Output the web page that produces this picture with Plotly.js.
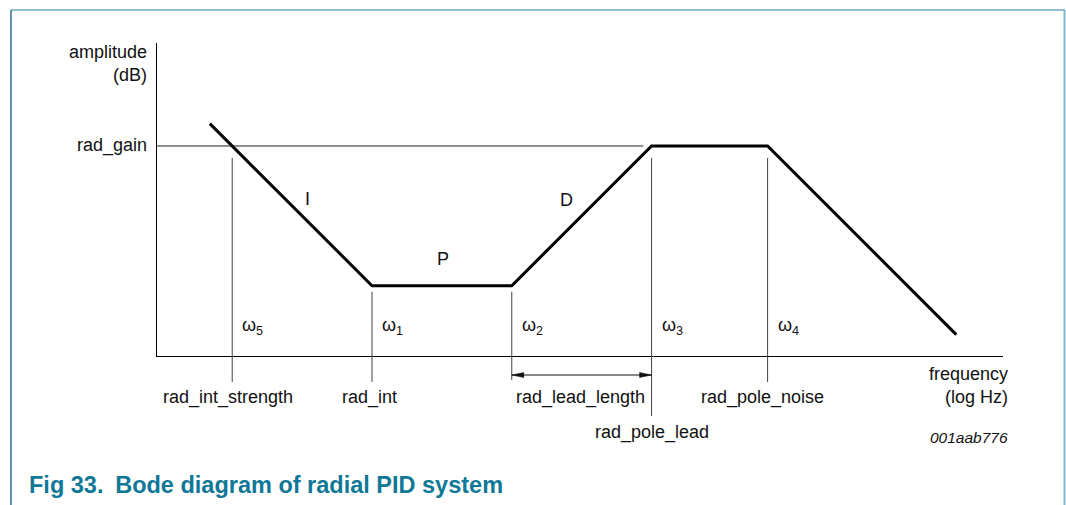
<!DOCTYPE html>
<html>
<head>
<meta charset="utf-8">
<script src="https://cdn.plot.ly/plotly-3.0.1.min.js"></script>
<style>html,body{margin:0;padding:0;background:#fff;}#chart{width:1066px;height:505px;}</style>
</head>
<body>
<div id="chart"></div>
<script>
// ---- data (schematic Bode magnitude, x = log10 frequency, y = dB) ----
const bodeLogFreq = [0.84, 2.0, 3.0, 4.0, 4.83, 6.18];
const bodeAmpDb   = [43.2, 20, 20, 40, 40, 13.0];
const gainDb = 40;
const gainLineEnd = 3.94;
const cornerSub     = ['5', '1', '2', '3', '4'];
const cornerLogFreq = [1.0, 2.0, 3.0, 4.0, 4.83];
const paramLabels   = ['rad_int_strength', 'rad_int', 'rad_lead_length', 'rad_pole_lead', 'rad_pole_noise'];
const regionLabels  = ['I', 'P', 'D'];
const regionLogFreq = [1.54, 2.51, 3.39];
const regionAmpDb   = [32.4, 23.8, 32.3];
const xTitle = 'frequency<br>(log Hz)';
const yTitle = 'amplitude<br>(dB)';
const figId = '001aab776';
const caption = 'Fig 33.\u2002Bode diagram of radial PID system';

// ---- layout geometry ----
const W = 1066, Hgt = 505;
const mL = 157, mR = 63, mT = 43, mB = 149;
const PW = W - mL - mR, PH = Hgt - mT - mB;
const xRange = [0.462, 6.514];
const yRange = [9.94, 54.74];
const FONT = 'Liberation Sans, Arial, Helvetica, sans-serif';
const TXT = '#111';

const px2pX = px => (px - mL) / PW;           // page px -> paper x
const py2pY = py => (Hgt - mB - py) / PH;     // page px -> paper y
const db2pY = db => (db - yRange[0]) / (yRange[1] - yRange[0]);
const pxToX = d => d * (xRange[1] - xRange[0]) / PW; // px length -> x units

const shapes = [];
const annotations = [];

// frame
shapes.push({type:'line', xref:'paper', yref:'paper', x0:px2pX(11), x1:px2pX(1065), y0:py2pY(10), y1:py2pY(10), line:{color:'#6ea8bc', width:1.5}});
shapes.push({type:'line', xref:'paper', yref:'paper', x0:px2pX(11), x1:px2pX(11), y0:py2pY(10), y1:py2pY(506), line:{color:'#2a7191', width:1.5}});
shapes.push({type:'line', xref:'paper', yref:'paper', x0:px2pX(1064.5), x1:px2pX(1064.5), y0:py2pY(10), y1:py2pY(506), line:{color:'#7cb9c8', width:2}});

// rad_gain reference line
shapes.push({type:'line', xref:'x', yref:'y', x0:xRange[0], x1:gainLineEnd, y0:gainDb, y1:gainDb, line:{color:'#222', width:1}});

// corner-frequency guide lines
const topOff = [12, 6, 6, 12, 12];      // px below the curve level
const topLevel = [gainDb, 20, 20, gainDb, gainDb];
const botPx = [26, 26, 24, 60, 26];     // px below x axis
cornerLogFreq.forEach((f, i) => {
  shapes.push({type:'line', xref:'x', yref:'paper', x0:f, x1:f,
    y0: db2pY(topLevel[i]) - topOff[i] / PH, y1: -botPx[i] / PH,
    line:{color:'#444', width:1}});
  annotations.push({xref:'x', yref:'paper', x:f, y:py2pY(326), xanchor:'left', yanchor:'middle',
    xshift:8, showarrow:false, text:'ω<sub>' + cornerSub[i] + '</sub>', font:{family:FONT, size:18, color:TXT}});
});

// double arrow rad_lead_length
(function(){
  const a = cornerLogFreq[2], b = cornerLogFreq[3];
  const y = -19 / PH, dx = pxToX(12), dy = 2.5 / PH;
  shapes.push({type:'path', xref:'x', yref:'paper', line:{color:'#111', width:1},
    path:`M${a},${y}L${b},${y}`});
  shapes.push({type:'path', xref:'x', yref:'paper', line:{color:'#111', width:0.5}, fillcolor:'#111',
    path:`M${a},${y}L${a+dx},${y+dy}L${a+dx},${y-dy}Z`});
  shapes.push({type:'path', xref:'x', yref:'paper', line:{color:'#111', width:0.5}, fillcolor:'#111',
    path:`M${b},${y}L${b-dx},${y+dy}L${b-dx},${y-dy}Z`});
})();

// parameter labels under the axis
const paramX = [cornerLogFreq[0], cornerLogFreq[1], (cornerLogFreq[2] + cornerLogFreq[3]) / 2, cornerLogFreq[3], cornerLogFreq[4]];
const paramYpx = [397, 397, 397, 432, 397];
const paramShift = [-4, -2, -1, 0, -5];
paramLabels.forEach((t, i) => {
  annotations.push({xref:'x', yref:'paper', x:paramX[i], y:py2pY(paramYpx[i]), xanchor:'center', yanchor:'middle',
    xshift:paramShift[i], showarrow:false, text:t, font:{family:FONT, size:18, color:TXT}});
});

// region labels
regionLabels.forEach((t, i) => {
  annotations.push({xref:'x', yref:'y', x:regionLogFreq[i], y:regionAmpDb[i], xanchor:'center', yanchor:'middle',
    showarrow:false, text:t, font:{family:FONT, size:18, color:TXT}});
});

// axis titles, gain tick label, figure id
annotations.push({xref:'paper', yref:'paper', x:px2pX(149), y:py2pY(63.5), xanchor:'right', yanchor:'middle', align:'right',
  showarrow:false, text:yTitle, font:{family:FONT, size:18, color:TXT}});
annotations.push({xref:'paper', yref:'y', x:px2pX(149), y:gainDb, xanchor:'right', yanchor:'middle',
  showarrow:false, text:'rad_gain', font:{family:FONT, size:18, color:TXT}});
annotations.push({xref:'paper', yref:'paper', x:px2pX(1010), y:py2pY(385), xanchor:'right', yanchor:'middle', align:'right',
  showarrow:false, text:xTitle, font:{family:FONT, size:18, color:TXT}});
annotations.push({xref:'paper', yref:'paper', x:px2pX(1010), y:py2pY(437), xanchor:'right', yanchor:'middle',
  showarrow:false, text:'<i>' + figId + '</i>', font:{family:FONT, size:15.5, color:TXT}});

const trace = {
  type:'scatter', mode:'lines', x:bodeLogFreq, y:bodeAmpDb,
  line:{color:'#000', width:3}, hoverinfo:'skip', showlegend:false
};

const layout = {
  width:W, height:Hgt, autosize:false,
  margin:{l:mL, r:mR, t:mT, b:mB, pad:0},
  paper_bgcolor:'#fff', plot_bgcolor:'#fff',
  showlegend:false,
  title:{text:'<b>' + caption + '</b>', xref:'container', yref:'container', x:29/W, xanchor:'left',
    y:1 - 485/Hgt, yanchor:'middle', font:{family:FONT, size:23.5, color:'#0f7897'}},
  xaxis:{range:xRange, showline:true, linecolor:'#000', linewidth:1.3, showgrid:false, zeroline:false,
    showticklabels:false, ticks:'', fixedrange:true},
  yaxis:{range:yRange, showline:true, linecolor:'#000', linewidth:1.3, showgrid:false, zeroline:false,
    showticklabels:false, ticks:'', fixedrange:true},
  shapes:shapes, annotations:annotations
};

Plotly.newPlot('chart', [trace], layout, {displayModeBar:false, staticPlot:true});
</script>
</body>
</html>
